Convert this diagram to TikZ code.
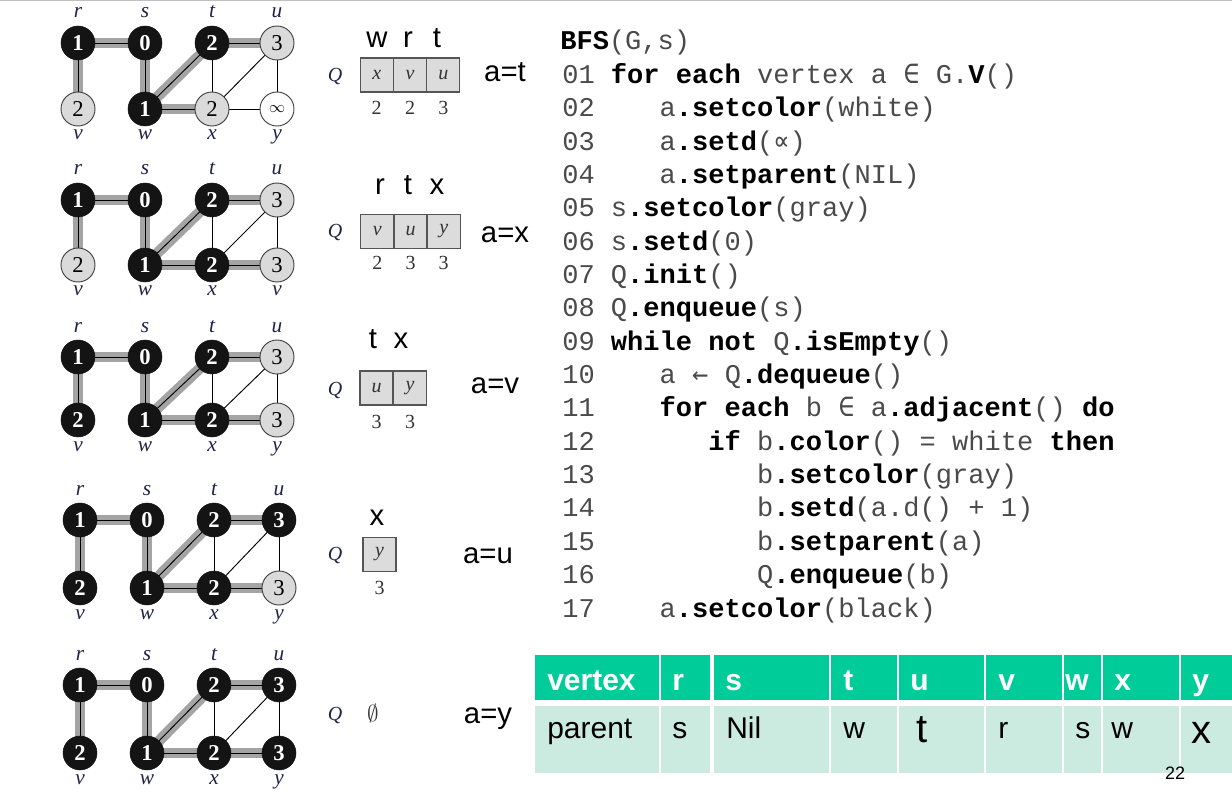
\documentclass[tikz,border=0pt]{standalone}
\usepackage{fontspec}
\setmainfont{Liberation Serif}
\newfontfamily\arial{Liberation Sans}
\newfontfamily\cour{Liberation Mono}
\newfontfamily\dvm{DejaVu Sans Mono}
\pgfdeclarelayer{bg}
\pgfsetlayers{bg,main}
\definecolor{treegray}{HTML}{A4A4A4}
\definecolor{nodegray}{HTML}{DADADA}
\definecolor{nodeblack}{HTML}{141414}
\definecolor{qfill}{HTML}{DCDCDC}
\definecolor{qline}{HTML}{555555}
\definecolor{hdr}{HTML}{00CC99}
\definecolor{bodyc}{HTML}{CCEBE0}
\definecolor{codegray}{HTML}{4A4A4A}
\definecolor{lblcol}{HTML}{1E2448}
\newcommand\kw[1]{{\bfseries\color{black}#1}}
\newcommand\sym[1]{{\dvm #1}}
\tikzset{
 vtx/.style={circle, minimum size=25.5pt, inner sep=0pt, font=\fontsize{17}{17}\selectfont},
 bnode/.style={vtx, fill=nodeblack, draw=nodeblack, text=white, font=\fontsize{17}{17}\selectfont\bfseries},
 gnode/.style={vtx, fill=nodegray, draw=black!75, line width=0.7pt},
 wnode/.style={vtx, fill=white, draw=black!75, line width=0.7pt},
 tree/.style={draw=black, line width=0.7pt, preaction={draw=treegray, line width=8pt}},
 plain/.style={draw=black, line width=0.7pt},
 vlab/.style={anchor=base, inner sep=0pt, text=lblcol, font=\fontsize{16}{16}\selectfont\itshape},
 qcell/.style={rectangle, draw=qline, fill=qfill, line width=1pt, minimum width=24.75pt, minimum height=25.5pt, inner sep=0pt, text=black!80, font=\fontsize{15}{15}\selectfont\itshape},
 qnum/.style={inner sep=0pt, text=black!80, font=\fontsize{15}{15}\selectfont},
 qlab/.style={inner sep=0pt, text=lblcol, font=\fontsize{15}{15}\selectfont\itshape},
 sans/.style={anchor=base, inner sep=0pt, font=\arial\fontsize{22}{22}\selectfont},
 code/.style={anchor=base west, inner sep=0pt, text=codegray, font=\cour\fontsize{20.3}{20.3}\selectfont},
 hcell/.style={fill=hdr},
 bcell/.style={fill=bodyc},
 htext/.style={anchor=base west, inner sep=0pt, text=white, font=\arial\bfseries\fontsize{22.5}{22.5}\selectfont},
 btext/.style={anchor=base west, inner sep=0pt, text=black, font=\arial\fontsize{22.5}{22.5}\selectfont},
 bigtext/.style={anchor=base west, inner sep=0pt, text=black, font=\arial\fontsize{30}{30}\selectfont},
}
% #1 id, #2 ytop, #3 ybot, #4 u, #5 v, #6 x, #7 y style, #8 y value, #9 x-y edge
\newcommand\bfsrow[9]{%
 \node[bnode] (r#1) at (78,#2) {1};
 \node[bnode] (s#1) at (145,#2) {0};
 \node[bnode] (t#1) at (212,#2) {2};
 \node[#4] (u#1) at (277,#2) {3};
 \node[#5] (v#1) at (78,#3) {2};
 \node[bnode] (w#1) at (145,#3) {1};
 \node[#6] (x#1) at (212,#3) {2};
 \node[#7] (y#1) at (277,#3) {#8};
 \begin{pgfonlayer}{bg}
  \draw[tree] (r#1.center) -- (s#1.center);
  \draw[tree] (r#1.center) -- (v#1.center);
  \draw[tree] (s#1.center) -- (w#1.center);
  \draw[tree] (w#1.center) -- (t#1.center);
  \draw[tree] (t#1.center) -- (u#1.center);
  \draw[tree] (w#1.center) -- (x#1.center);
  \draw[plain] (t#1.center) -- (x#1.center);
  \draw[plain] (x#1.center) -- (u#1.center);
  \draw[plain] (u#1.center) -- (y#1.center);
  \draw[#9] (x#1.center) -- (y#1.center);
 \end{pgfonlayer}
 \node[vlab] (lr#1) at (78,#2-25) {r};
 \node[vlab] (ls#1) at (145,#2-25) {s};
 \node[vlab] (lt#1) at (212,#2-25) {t};
 \node[vlab] (lu#1) at (277,#2-25) {u};
 \node[vlab] (lv#1) at (78,#3+31) {v};
 \node[vlab] (lw#1) at (145,#3+31) {w};
 \node[vlab] (lx#1) at (212,#3+31) {x};
}
\begin{document}
\begin{tikzpicture}[x=0.75pt,y=-0.75pt]
\useasboundingbox (0,0) rectangle (1232,795);
\draw[black!25, line width=1pt] (0,0.8) -- (1232,0.8);

% ---- graphs ----
\bfsrow{1}{43}{109}{gnode}{gnode}{gnode}{wnode}{\fontsize{13}{13}\selectfont$\infty$}{plain}
\node[vlab] (ly1) at (277,109+31) {y};
\bfsrow{2}{200}{265}{gnode}{gnode}{bnode}{gnode}{3}{tree}
\node[vlab] (ly2) at (277,265+31) {v};
\bfsrow{3}{357}{420}{gnode}{bnode}{bnode}{gnode}{3}{tree}
\node[vlab] (ly3) at (277,420+31) {y};
\begin{scope}[xshift=1.5pt]
\bfsrow{4}{520}{588}{bnode}{bnode}{bnode}{gnode}{3}{tree}
\node[vlab] (ly4) at (277,588+31) {y};
\bfsrow{5}{685}{753}{bnode}{bnode}{bnode}{bnode}{3}{tree}
\node[vlab] (ly5) at (277,753+31) {y};
\end{scope}

% ---- queues ----
\node[qlab] (q1) at (335,77) {Q};
\node[qcell] (q1a) at (376.7,75) {x};
\node[qcell] (q1b) at (410,75) {v};
\node[qcell] (q1c) at (443.3,75) {u};
\node[qnum] (n1a) at (376.7,108) {2};
\node[qnum] (n1b) at (410,108) {2};
\node[qnum] (n1c) at (443.3,108) {3};
\node[sans] (h1a) at (377,48) {w};
\node[sans] (h1b) at (408,48) {r};
\node[sans] (h1c) at (437,48) {t};
\node[sans] (a1) at (505,82) {a=t};

\node[qlab] (q2) at (335,233) {Q};
\node[qcell] (q2a) at (377.3,231.5) {v};
\node[qcell] (q2b) at (410.5,231.5) {u};
\node[qcell] (q2c) at (443.7,231.5) {y};
\node[qnum] (n2a) at (377.3,263) {2};
\node[qnum] (n2b) at (410.5,263) {3};
\node[qnum] (n2c) at (443.7,263) {3};
\node[sans] (h2a) at (380,195) {r};
\node[sans] (h2b) at (408,195) {t};
\node[sans] (h2c) at (437,195) {x};
\node[sans] (a2) at (505,243) {a=x};

\node[qlab] (q3) at (335,390) {Q};
\node[qcell] (q3a) at (376.5,388) {u};
\node[qcell] (q3b) at (410,388) {y};
\node[qnum] (n3a) at (376.5,422) {3};
\node[qnum] (n3b) at (410,422) {3};
\node[sans] (h3a) at (373,348) {t};
\node[sans] (h3b) at (401,348) {x};
\node[sans] (a3) at (495,393) {a=v};

\node[qlab] (q4) at (335,555) {Q};
\node[qcell] (q4a) at (379.5,554.5) {y};
\node[qnum] (n4a) at (379.5,588) {3};
\node[sans] (h4a) at (377,525) {x};
\node[sans] (a4) at (488,563) {a=u};

\node[qlab] (q5) at (335,715) {Q};
\node[qnum, font=\fontsize{17}{17}\selectfont] (e5) at (373,713) {$\emptyset$};
\node[sans] (a5) at (488,723) {a=y};

% ---- code ----
\node[code] (c0) at (560,50) {\kw{BFS}(G,s)};
\node[code] (c1) at (562,83.4) {01 \kw{for each} vertex a \sym{∈} G.\kw{V}()};
\node[code] (c2) at (562,116.7) {02\phantom{0000}a\kw{.setcolor}(white)};
\node[code] (c3) at (562,150.1) {03\phantom{0000}a\kw{.setd}(\sym{∝})};
\node[code] (c4) at (562,183.4) {04\phantom{0000}a\kw{.setparent}(NIL)};
\node[code] (c5) at (562,216.8) {05 s\kw{.setcolor}(gray)};
\node[code] (c6) at (562,250.1) {06 s\kw{.setd}(0)};
\node[code] (c7) at (562,283.5) {07 Q\kw{.init}()};
\node[code] (c8) at (562,316.8) {08 Q\kw{.enqueue}(s)};
\node[code] (c9) at (562,350.2) {09 \kw{while not} Q\kw{.isEmpty}()};
\node[code] (c10) at (562,383.5) {10\phantom{0000}a \sym{←} Q\kw{.dequeue}()};
\node[code] (c11) at (562,416.9) {11\phantom{0000}\kw{for each} b \sym{∈} a\kw{.adjacent}() \kw{do}};
\node[code] (c12) at (562,450.2) {12\phantom{0000000}\kw{if} b\kw{.color}() = white \kw{then}};
\node[code] (c13) at (562,483.6) {13\phantom{0000000000}b\kw{.setcolor}(gray)};
\node[code] (c14) at (562,516.9) {14\phantom{0000000000}b\kw{.setd}(a.d() + 1)};
\node[code] (c15) at (562,550.3) {15\phantom{0000000000}b\kw{.setparent}(a)};
\node[code] (c16) at (562,583.6) {16\phantom{0000000000}Q\kw{.enqueue}(b)};
\node[code] (c17) at (562,617) {17\phantom{0000}a\kw{.setcolor}(black)};

% ---- table ----
\foreach \xa/\xb in {534.5/659,660.7/710.4,713.5/829,830.8/897.1,898.8/984.3,986.1/1061.8,1063.6/1100.7,1102.5/1179.1,1180.8/1232}{
  \fill[hcell] (\xa,655) rectangle (\xb,700);
  \fill[bcell] (\xa,706) rectangle (\xb,773);
}
\node[htext] (hv) at (547,690) {vertex};
\node[htext] (hr) at (672,690) {r};
\node[htext] (hs) at (725,690) {s};
\node[htext] (ht) at (843,690) {t};
\node[htext] (hu) at (910,690) {u};
\node[htext] (hvv) at (998,690) {v};
\node[htext] (hw) at (1065,690) {w};
\node[htext] (hx) at (1114,690) {x};
\node[htext] (hy) at (1192,690) {y};
\node[btext] (bp) at (547,738) {parent};
\node[btext] (bs) at (672,738) {s};
\node[btext] (bn) at (726,738) {Nil};
\node[btext] (bw) at (843,738) {w};
\node[bigtext] (bt) at (916,742) {t};
\node[btext] (br) at (998,738) {r};
\node[btext] (bs2) at (1075,738) {s};
\node[btext] (bw2) at (1111,738) {w};
\node[bigtext] (bx) at (1191,743) {x};
\node[inner sep=0pt, font=\arial\fontsize{13.5}{13.5}\selectfont] (pg) at (1175,773) {22};
\end{tikzpicture}
\end{document}
